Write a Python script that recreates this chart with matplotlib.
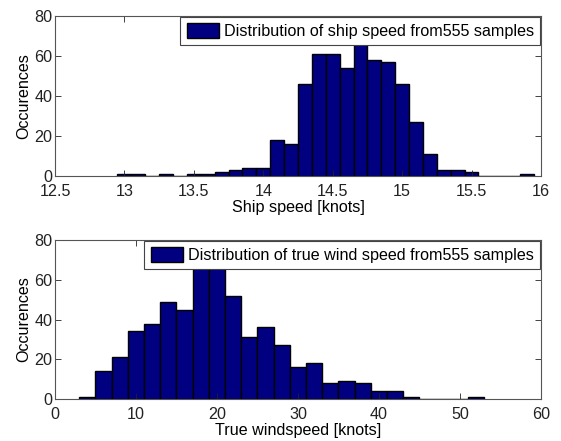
import numpy as np
import matplotlib
matplotlib.use("Agg")
import matplotlib.pyplot as plt
from matplotlib.ticker import FuncFormatter

# --- data ---
ship_bin_start = 12.95
ship_bin_width = 0.1
ship_counts = [1, 1, 0, 1, 0, 1, 1, 2, 3, 4, 4, 18, 16, 46, 61, 61, 54, 73,
               58, 57, 46, 27, 11, 3, 3, 2, 0, 0, 0, 1]

wind_bin_start = 3.0
wind_bin_width = 2.0
wind_counts = [1, 14, 21, 34, 38, 49, 45, 69, 69, 52, 31, 36, 27, 16, 18, 8,
               9, 8, 4, 4, 1, 0, 0, 0, 1]

ship_xticks = [12.5, 13, 13.5, 14, 14.5, 15, 15.5, 16]
wind_xticks = [0, 10, 20, 30, 40, 50, 60]
yticks = [0, 20, 40, 60, 80]

ship_label = "Distribution of ship speed from555 samples"
wind_label = "Distribution of true wind speed from555 samples"

plt.rcParams['font.family'] = ['Liberation Sans', 'DejaVu Sans']
FS = 11.6
BAR_COLOR = '#000080'

fig = plt.figure(figsize=(5.61, 4.41), dpi=100)
ax1 = fig.add_axes([0.098, 0.6009, 0.8663, 0.3628])
ax2 = fig.add_axes([0.098, 0.0952, 0.8663, 0.3605])

def draw(ax, start, width, counts, xticks, label, xlabel):
    lefts = start + width * np.arange(len(counts))
    ax.bar(lefts, counts, width=width, align='edge', color=BAR_COLOR,
           edgecolor='black', linewidth=1.0, label=label)
    ax.set_xlim(xticks[0], xticks[-1])
    ax.set_ylim(0, 80)
    ax.set_xticks(xticks)
    ax.set_yticks(yticks)
    ax.xaxis.set_major_formatter(FuncFormatter(lambda v, p: f"{v:g}"))
    ax.tick_params(direction='in', length=4, width=0.6, top=True, right=True,
                   labelsize=FS, colors='#222222', pad=2)
    ax.tick_params(axis='x', pad=5.5)
    for s in ax.spines.values():
        s.set_linewidth(0.8)
        s.set_color('#555555')
    ax.set_ylabel("Occurences", fontsize=FS, labelpad=2)
    ax.set_xlabel(xlabel, fontsize=FS, labelpad=1)
    leg = ax.legend(loc='upper right', fontsize=FS, frameon=True, fancybox=False,
                    framealpha=1.0, borderaxespad=0.05, borderpad=0.4,
                    handlelength=2.0, handleheight=1.0, handletextpad=0.3)
    leg.get_frame().set_edgecolor('#444444')
    leg.get_frame().set_linewidth(0.8)

draw(ax1, ship_bin_start, ship_bin_width, ship_counts, ship_xticks,
     ship_label, "Ship speed [knots]")
draw(ax2, wind_bin_start, wind_bin_width, wind_counts, wind_xticks,
     wind_label, "True windspeed [knots]")

fig.savefig("out.png", dpi=100)
